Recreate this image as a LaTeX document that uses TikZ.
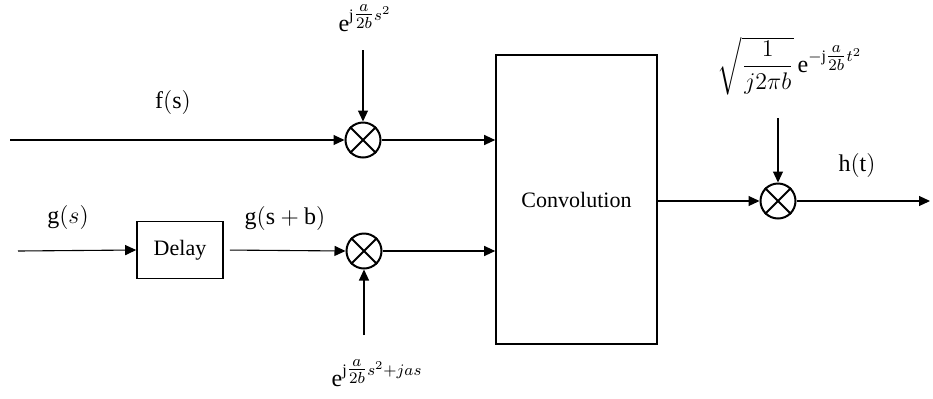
\documentclass[tikz,border=0pt]{standalone}
\usepackage{amsmath}
\usepackage{fontspec}
\setmainfont{Liberation Serif}
\usetikzlibrary{arrows.meta}
\begin{document}
\begin{tikzpicture}[x=0.5pt,y=-0.5pt,
  font=\fontsize{11}{13}\selectfont,
  wire/.style={line width=0.55pt,-{Triangle[length=5.5pt,width=5pt]}},
  mult/.style={circle,draw,line width=1pt,minimum size=17.5pt,inner sep=0pt},
  block/.style={draw,line width=0.8pt,inner sep=0pt},
  lbl/.style={inner sep=0pt,font=\fontsize{12}{14}\selectfont}]
\useasboundingbox (0,0) rectangle (933,398);
% blocks
\node[mult] (m1) at (363,140) {};
\node[mult] (m2) at (364,251) {};
\node[mult] (m3) at (778,201) {};
\foreach \m in {m1,m2,m3}{
  \draw[line width=1pt] (\m.north west) -- (\m.south east) (\m.north east) -- (\m.south west);
}
\node[block,minimum width=80.5pt,minimum height=144.5pt] (conv) at (576.5,199.5) {Convolution};
\node[block,minimum width=43pt,minimum height=28.5pt] (delay) at (180,250) {Delay};
% free ends
\coordinate (fin) at (10,140);
\coordinate (gin) at (18,251);
\coordinate (e1) at (363,50);
\coordinate (e2) at (364,335);
\coordinate (e3) at (778,118);
\coordinate (hout) at (930,201);
% connectors
\draw[wire] (fin) -- (m1.west);
\draw[wire] (m1.east) -- (m1.east -| conv.west);
\draw[wire] (gin) -- (delay.west);
\draw[wire,shorten <=3pt] (delay.east) -- (m2.west);
\draw[wire] (m2.east) -- (m2.east -| conv.west);
\draw[wire] (e1) -- (m1.north);
\draw[wire] (e2) -- (m2.south);
\draw[wire] (m3.west -| conv.east) -- (m3.west);
\draw[wire] (e3) -- (m3.north);
\draw[wire] (m3.east) -- (hout);
% labels
\node[lbl] (lf) at (173,102) {$\mathrm{f}(\mathrm{s})$};
\node[lbl] (lg) at (68,217) {$\mathrm{g}(s)$};
\node[lbl] (lgb) at (285,218) {$\mathrm{g}(\mathrm{s}+\mathrm{b})$};
\node[lbl] (lh) at (857,165) {$\mathrm{h}(\mathrm{t})$};
\node[lbl] (l1) at (365,18) {$\mathrm{e}^{\mathrm{j}\tfrac{a}{2b}s^2}$};
\node[lbl] (l2) at (377,373) {$\mathrm{e}^{\mathrm{j}\tfrac{a}{2b}s^2+jas}$};
\node[lbl] (l3) at (790,66) {$\sqrt{\dfrac{1}{j2\pi b}}\,\mathrm{e}^{-\mathrm{j}\tfrac{a}{2b}t^2}$};
\end{tikzpicture}
\end{document}
